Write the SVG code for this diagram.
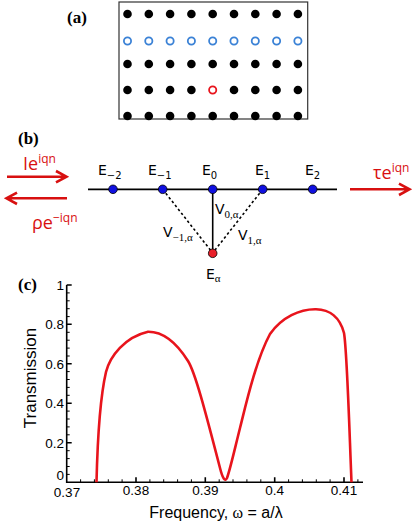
<svg xmlns="http://www.w3.org/2000/svg" width="415" height="525" viewBox="0 0 415 525">
<defs>
<style>
.lab{font-family:"Liberation Serif",serif;font-weight:bold;font-size:17px;fill:#000}
.dot{fill:#000}
.ring{fill:none;stroke:#3b82d6;stroke-width:1.8}
.ringr{fill:none;stroke:#e8141c;stroke-width:1.8}
.sans{font-family:"DejaVu Sans","Liberation Sans",sans-serif;fill:#000}
.serif{font-family:"Liberation Serif",serif;fill:#000}
.red{fill:#d81010}
.arr{stroke:#d81010;stroke-width:2.6;fill:none}
.tick{font-family:"Liberation Sans",sans-serif;font-size:13.5px;fill:#000}
.ax{stroke:#000;stroke-width:1.6;fill:none}
.mt{stroke:#000;stroke-width:1;fill:none}
.node{fill:#1010e0;stroke:#000;stroke-width:0.8}
</style>
</defs>

<!-- Panel (a) -->
<g id="panel-a">
<text class="lab" x="67" y="23">(a)</text>
<rect x="119" y="2" width="188.7" height="117" fill="#fff" stroke="#333" stroke-width="1.2"/>
<g id="row1">
<circle class="dot" cx="127.5" cy="14" r="4.3"/><circle class="dot" cx="148.8" cy="14" r="4.3"/><circle class="dot" cx="170.1" cy="14" r="4.3"/><circle class="dot" cx="191.4" cy="14" r="4.3"/><circle class="dot" cx="212.7" cy="14" r="4.3"/><circle class="dot" cx="234" cy="14" r="4.3"/><circle class="dot" cx="255.3" cy="14" r="4.3"/><circle class="dot" cx="276.6" cy="14" r="4.3"/><circle class="dot" cx="297.9" cy="14" r="4.3"/>
</g>
<g id="row2">
<circle class="ring" cx="127.5" cy="41" r="3.6"/><circle class="ring" cx="148.8" cy="41" r="3.6"/><circle class="ring" cx="170.1" cy="41" r="3.6"/><circle class="ring" cx="191.4" cy="41" r="3.6"/><circle class="ring" cx="212.7" cy="41" r="3.6"/><circle class="ring" cx="234" cy="41" r="3.6"/><circle class="ring" cx="255.3" cy="41" r="3.6"/><circle class="ring" cx="276.6" cy="41" r="3.6"/><circle class="ring" cx="297.9" cy="41" r="3.6"/>
</g>
<g id="row3">
<circle class="dot" cx="127.5" cy="64" r="4.3"/><circle class="dot" cx="148.8" cy="64" r="4.3"/><circle class="dot" cx="170.1" cy="64" r="4.3"/><circle class="dot" cx="191.4" cy="64" r="4.3"/><circle class="dot" cx="212.7" cy="64" r="4.3"/><circle class="dot" cx="234" cy="64" r="4.3"/><circle class="dot" cx="255.3" cy="64" r="4.3"/><circle class="dot" cx="276.6" cy="64" r="4.3"/><circle class="dot" cx="297.9" cy="64" r="4.3"/>
</g>
<g id="row4">
<circle class="dot" cx="127.5" cy="90" r="4.3"/><circle class="dot" cx="148.8" cy="90" r="4.3"/><circle class="dot" cx="170.1" cy="90" r="4.3"/><circle class="dot" cx="191.4" cy="90" r="4.3"/><circle class="ringr" cx="212.7" cy="90" r="3.6"/><circle class="dot" cx="234" cy="90" r="4.3"/><circle class="dot" cx="255.3" cy="90" r="4.3"/><circle class="dot" cx="276.6" cy="90" r="4.3"/><circle class="dot" cx="297.9" cy="90" r="4.3"/>
</g>
<g id="row5">
<circle class="dot" cx="127.5" cy="116" r="4.3"/><circle class="dot" cx="148.8" cy="116" r="4.3"/><circle class="dot" cx="170.1" cy="116" r="4.3"/><circle class="dot" cx="191.4" cy="116" r="4.3"/><circle class="dot" cx="212.7" cy="116" r="4.3"/><circle class="dot" cx="234" cy="116" r="4.3"/><circle class="dot" cx="255.3" cy="116" r="4.3"/><circle class="dot" cx="276.6" cy="116" r="4.3"/><circle class="dot" cx="297.9" cy="116" r="4.3"/>
</g>
</g>

<!-- Panel (b) -->
<text class="lab" x="18" y="144">(b)</text>
<g id="connectors">
<line x1="88" y1="189.3" x2="337" y2="189.3" stroke="#000" stroke-width="1.8"/>
<line x1="212.7" y1="189.3" x2="212.7" y2="253" stroke="#000" stroke-width="1.6"/>
<line x1="162.7" y1="189.3" x2="212.7" y2="253" stroke="#000" stroke-width="1.6" stroke-dasharray="2.5,2.5"/>
<line x1="262.7" y1="189.3" x2="212.7" y2="253" stroke="#000" stroke-width="1.6" stroke-dasharray="2.5,2.5"/>
<path class="arr" d="M7 176.7H66M56 171L66.5 176.7L56 182.4"/>
<path class="arr" d="M67 198.3H7M17 192.6L6.5 198.3L17 204"/>
<path class="arr" d="M350 189.3H409M399 183.6L409.5 189.3L399 195"/>
</g>
<g id="node-Em2"><circle class="node" cx="113" cy="189.3" r="4.3"/><text class="sans" x="98" y="175" font-size="14">E<tspan font-size="10" dy="4">−2</tspan></text></g>
<g id="node-Em1"><circle class="node" cx="162.7" cy="189.3" r="4.3"/><text class="sans" x="148" y="175" font-size="14">E<tspan font-size="10" dy="4">−1</tspan></text></g>
<g id="node-E0"><circle class="node" cx="212.7" cy="189.3" r="4.3"/><text class="sans" x="202" y="175" font-size="14">E<tspan font-size="10" dy="4">0</tspan></text></g>
<g id="node-E1"><circle class="node" cx="262.7" cy="189.3" r="4.3"/><text class="sans" x="255" y="175" font-size="14">E<tspan font-size="10" dy="4">1</tspan></text></g>
<g id="node-E2"><circle class="node" cx="312.7" cy="189.3" r="4.3"/><text class="sans" x="305" y="175" font-size="14">E<tspan font-size="10" dy="4">2</tspan></text></g>
<g id="node-Ea"><circle cx="212.7" cy="253.3" r="4.3" fill="#e8202a" stroke="#000" stroke-width="0.8"/><text class="sans" x="206" y="279" font-size="14">E<tspan class="serif" font-size="11" dy="3">α</tspan></text></g>
<text class="sans" x="163" y="237" font-size="14">V<tspan class="serif" font-size="11" dy="4">−1,α</tspan></text>
<text class="sans" x="215" y="214" font-size="14">V<tspan class="serif" font-size="11" dy="4">0,α</tspan></text>
<text class="sans" x="238" y="240" font-size="14">V<tspan class="serif" font-size="11" dy="4">1,α</tspan></text>
<text class="red" font-family="'Open Sans','DejaVu Sans',sans-serif" x="23" y="170" font-size="18">Ie<tspan font-size="12" dy="-7">iqn</tspan></text>
<text class="red" font-family="'Open Sans','DejaVu Sans',sans-serif" x="32" y="229" font-size="18">ρe<tspan font-size="12" dy="-7">−iqn</tspan></text>
<text class="red" font-family="'Open Sans','DejaVu Sans',sans-serif" x="373" y="179" font-size="18">τe<tspan font-size="12" dy="-7">iqn</tspan></text>

<!-- Panel (c) -->
<g id="panel-c">
<text class="lab" x="18" y="290">(c)</text>
<g id="axes">
<path class="ax" d="M66.7 285V482.3H363"/>
<path class="ax" d="M66.7 285h5M66.7 324.2h5M66.7 363.7h5M66.7 403.2h5M66.7 442.8h5"/>
<path class="mt" d="M66.7 292.9h3M66.7 300.8h3M66.7 308.7h3M66.7 316.6h3M66.7 332.3h3M66.7 340.2h3M66.7 348.1h3M66.7 356h3M66.7 371.6h3M66.7 379.5h3M66.7 387.4h3M66.7 395.3h3M66.7 411.1h3M66.7 419h3M66.7 426.9h3M66.7 434.8h3M66.7 450.7h3M66.7 458.6h3M66.7 466.5h3M66.7 474.4h3"/>
<path class="ax" d="M136 482.3v-5M205.3 482.3v-5M274.7 482.3v-5M344 482.3v-5"/>
<path class="mt" d="M80.6 482.3v-3M94.4 482.3v-3M108.3 482.3v-3M122.1 482.3v-3M149.9 482.3v-3M163.7 482.3v-3M177.6 482.3v-3M191.4 482.3v-3M219.2 482.3v-3M233 482.3v-3M246.9 482.3v-3M260.8 482.3v-3M288.6 482.3v-3M302.4 482.3v-3M316.3 482.3v-3M330.1 482.3v-3M357.9 482.3v-3"/>
<g class="tick" text-anchor="end">
<text x="64" y="290">1</text>
<text x="64" y="329">0.8</text>
<text x="64" y="369">0.6</text>
<text x="64" y="408">0.4</text>
<text x="64" y="448">0.2</text>
<text x="64" y="479.5">0</text>
</g>
<g class="tick" text-anchor="middle">
<text x="67" y="496.5">0.37</text>
<text x="136" y="495">0.38</text>
<text x="205.3" y="495">0.39</text>
<text x="274.7" y="495">0.4</text>
<text x="344" y="495">0.41</text>
</g>
<text font-family="'Liberation Sans',sans-serif" font-size="17" text-anchor="middle" transform="translate(35.5 378) rotate(-90)">Transmission</text>
<text font-family="'Liberation Sans',sans-serif" font-size="16" x="216" y="518" text-anchor="middle">Frequency, <tspan font-family="'Liberation Serif',serif">ω</tspan> = a/λ</text>
</g>
<path id="curve" fill="none" stroke="#e8141c" stroke-width="2.6" stroke-linejoin="round" d="M96.5 482.3C97.5 440 99.5 400 106 372C110 356 125 337 148 331.7C165 331.5 178 345 188 361C195 372 205 410 220 468Q224 484 227 478C230 470 234 452 240 428C246 404 256 360 270 334C282 317 300 309 316 309.3C330 309.5 340 318 344 333C347 350 349 420 351.5 482.3"/>
</g>
</svg>
